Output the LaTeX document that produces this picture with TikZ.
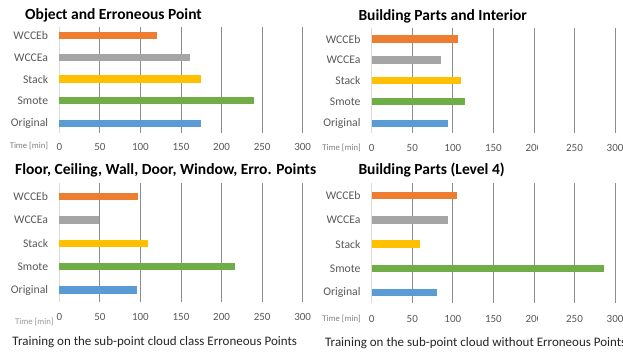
\documentclass[tikz,border=0pt]{standalone}
\usepackage{fontspec}
\setmainfont{Carlito}

\definecolor{barorange}{HTML}{ED7D31}
\definecolor{bargray}{HTML}{A5A5A5}
\definecolor{baryellow}{HTML}{FFC000}
\definecolor{bargreen}{HTML}{70AD47}
\definecolor{barblue}{HTML}{5B9BD5}
\definecolor{gridgray}{HTML}{8C8C8C}
\definecolor{zerogray}{HTML}{D9D9D9}
\definecolor{labelgray}{HTML}{595959}
\definecolor{unitgray}{HTML}{7F7F7F}
\definecolor{captiongray}{HTML}{262626}

% pixels per minute on the value axis
\def\pxu{0.8113}

\tikzset{
  gridline/.style={draw=gridgray, line width=0.9pt},
  zeroline/.style={draw=zerogray, line width=0.9pt},
  catlabel/.style={anchor=east, inner sep=0pt, text=labelgray,
    font=\fontsize{11.7}{12}\selectfont},
  ticklabel/.style={anchor=center, inner sep=0pt, text=labelgray,
    font=\fontsize{11}{12}\selectfont},
  unitlabel/.style={inner sep=0pt, text=unitgray,
    font=\fontsize{8.7}{9}\selectfont},
  charttitle/.style={anchor=west, inner sep=0pt, text=black,
    font=\bfseries\fontsize{15.5}{16}\selectfont},
  chartcaption/.style={anchor=west, inner sep=0pt, text=captiongray,
    font=\fontsize{13}{14}\selectfont},
}

% #1 name, #2 x of value 0, #3 grid top, #4 grid bottom,
% #5 tick label y, #6 list of  y/value/colour/category
\newcommand\drawchart[6]{%
  \draw[zeroline] (#2,#3) -- (#2,#4);
  \foreach \v in {50,100,...,300}
    \draw[gridline] ({#2+\v*\pxu},#3) -- ({#2+\v*\pxu},#4);
  \foreach \v in {0,50,...,300}
    \node[ticklabel] (#1-t\v) at ({#2+\v*\pxu},#5) {\v};
  \foreach \y/\val/\col/\lab in {#6} {
    \fill[\col] (#2,\y-3.7) rectangle ({#2+\val*\pxu},\y+3.7);
    \node[catlabel] (#1-\lab) at (#2-11,\y) {\lab};
  }%
}

\begin{document}
\begin{tikzpicture}[x=1pt,y=-1pt]
\useasboundingbox[fill=white] (0,0) rectangle (623,354);

% Object and Erroneous Point
\drawchart{oe}{59.3}{27}{133}{146.7}{%
  35.7/120/barorange/WCCEb, 57.7/161/bargray/WCCEa,
  79/175/baryellow/Stack, 100.7/240/bargreen/Smote,
  123.3/175/barblue/Original}
\node[charttitle] (oe-title) at (25,15) {Object and Erroneous Point};
\node[unitlabel, anchor=east] (oe-unit) at (48.3,145.7) {Time [min]};

% Building Parts and Interior
\drawchart{bi}{371.7}{28}{133}{148.3}{%
  39/106/barorange/WCCEb, 60/85/bargray/WCCEa,
  80.7/110/baryellow/Stack, 101.7/115.5/bargreen/Smote,
  123.3/94.5/barblue/Original}
\fill[white] (538.2,141) rectangle (546,156);
\node[charttitle] (bi-title) at (358.3,16.7) {Building Parts and Interior};
\node[unitlabel, anchor=east] (bi-unit) at (361,148.3) {Time [min]};

% Floor, Ceiling, Wall, Door, Window, Erroneous Points
\drawchart{fc}{59.3}{183}{301.7}{316.7}{%
  196.7/97/barorange/WCCEb, 220/49/bargray/WCCEa,
  243.3/109.5/baryellow/Stack, 266.7/217/bargreen/Smote,
  290/95.6/barblue/Original}
\node[charttitle] (fc-title) at (15,170) {Floor, Ceiling, Wall, Door, Window, Erro. Points};
\node[unitlabel, anchor=west, text=unitgray!80] (fc-unit) at (15,321.7) {Time [min]};
\node[chartcaption] (fc-caption) at (12.3,341.7) {Training on the sub-point cloud class Erroneous Points};

% Building Parts (Level 4)
\drawchart{bl}{371.7}{183}{303}{319.3}{%
  195.7/104.8/barorange/WCCEb, 220/94.5/bargray/WCCEa,
  244/59.6/baryellow/Stack, 268.3/286.5/bargreen/Smote,
  292.7/80/barblue/Original}
\fill[white] (538.2,312) rectangle (546,327);
\node[charttitle] (bl-title) at (358.3,170) {Building Parts (Level 4)};
\node[unitlabel, anchor=east] (bl-unit) at (361,319.3) {Time [min]};
\node[chartcaption] (bl-caption) at (325,342.7) {Training on the sub-point cloud without Erroneous Points};
\end{tikzpicture}
\end{document}
